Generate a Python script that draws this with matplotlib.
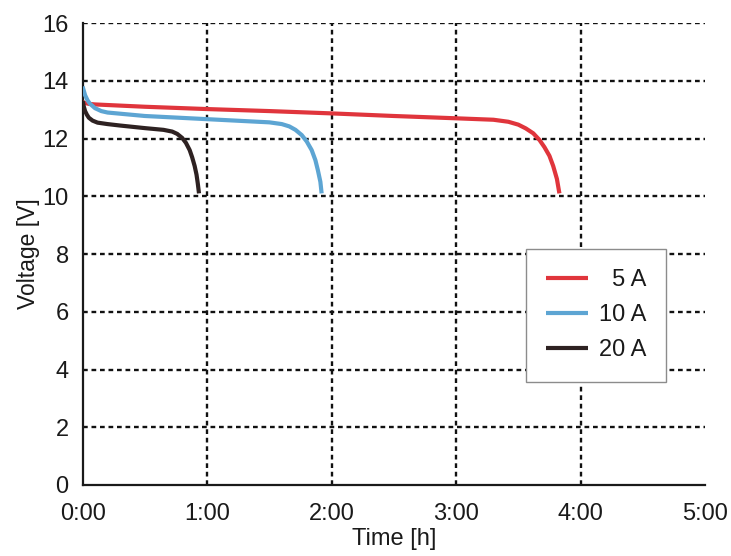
import matplotlib.pyplot as plt

plt.rcParams['font.family'] = ['Liberation Sans', 'DejaVu Sans']

# discharge curves, time in hours, voltage in volts
t_5a = [0, 0.05, 0.1, 0.3, 0.5, 1.0, 1.5, 2.0, 2.5, 3.0, 3.3, 3.42, 3.5, 3.56, 3.62, 3.67, 3.71, 3.75, 3.78, 3.81, 3.83]
v_5a = [13.25, 13.2, 13.18, 13.14, 13.1, 13.02, 12.95, 12.87, 12.78, 12.7, 12.65, 12.58, 12.48, 12.35, 12.18, 11.95, 11.7, 11.4, 11.05, 10.6, 10.1]

t_10a = [0, 0.01, 0.02, 0.04, 0.06, 0.1, 0.15, 0.2, 0.5, 1.0, 1.5, 1.6, 1.66, 1.71, 1.76, 1.8, 1.84, 1.87, 1.89, 1.91, 1.92]
v_10a = [13.8, 13.65, 13.5, 13.32, 13.2, 13.05, 12.95, 12.9, 12.78, 12.67, 12.56, 12.5, 12.42, 12.3, 12.12, 11.9, 11.6, 11.25, 10.9, 10.5, 10.1]

t_20a = [0, 0.01, 0.02, 0.035, 0.05, 0.08, 0.12, 0.2, 0.3, 0.5, 0.65, 0.72, 0.76, 0.8, 0.83, 0.86, 0.88, 0.9, 0.915, 0.925, 0.935]
v_20a = [13.3, 13.1, 12.95, 12.82, 12.72, 12.62, 12.55, 12.5, 12.45, 12.36, 12.3, 12.24, 12.16, 12.02, 11.85, 11.6, 11.35, 11.05, 10.75, 10.45, 10.1]

xticks = [0, 1, 2, 3, 4, 5]
xlabels = ['0:00', '1:00', '2:00', '3:00', '4:00', '5:00']
yticks = [0, 2, 4, 6, 8, 10, 12, 14, 16]

fig = plt.figure(figsize=(7.31, 5.56), dpi=100)
ax = fig.add_axes([0.113, 0.1277, 0.8515, 0.8309])

dots = (0, (2, 1.6))
for y in yticks[1:]:
    ax.axhline(y, color='#111111', lw=1.7, ls=dots, zorder=1)
for x in xticks[1:-1]:
    ax.axvline(x, color='#111111', lw=1.7, ls=dots, zorder=1)

ax.plot(t_5a, v_5a, color='#e0353c', lw=3, solid_capstyle='butt', label='\u20075 A', zorder=3)
ax.plot(t_10a, v_10a, color='#5da5d3', lw=3, solid_capstyle='butt', label='10 A', zorder=3)
ax.plot(t_20a, v_20a, color='#2e2222', lw=3, solid_capstyle='butt', label='20 A', zorder=3)

ax.set_xlim(0, 5)
ax.set_ylim(0, 16)
ax.set_xticks(xticks)
ax.set_xticklabels(xlabels)
ax.set_yticks(yticks)
ax.tick_params(length=0, labelsize=17, colors='#1a1a1a')
ax.tick_params(axis='x', pad=13)
ax.tick_params(axis='y', pad=10)

for side in ['top', 'right']:
    ax.spines[side].set_visible(False)
for side in ['left', 'bottom']:
    ax.spines[side].set_linewidth(1.6)
    ax.spines[side].set_color('#1a1a1a')

ax.set_xlabel('Time [h]', fontsize=17, labelpad=2, color='#1a1a1a')
ax.set_ylabel('Voltage [V]', fontsize=16.5, labelpad=2, color='#1a1a1a')

leg = ax.legend(loc='upper left', bbox_to_anchor=(0.712, 0.511), fontsize=17,
                fancybox=False, framealpha=1, edgecolor='#8c8c8c',
                handlelength=1.8, handletextpad=0.45, labelspacing=0.56,
                borderpad=0.85, borderaxespad=0)
leg.get_frame().set_linewidth(1.0)
for txt in leg.get_texts():
    txt.set_color('#1a1a1a')

fig.savefig('out.png', dpi=100)
